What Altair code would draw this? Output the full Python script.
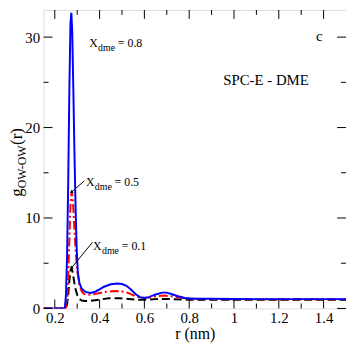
import altair as alt
import pandas as pd

# ---- data ----
r_08 = [0.15, 0.24, 0.245, 0.25, 0.255, 0.26, 0.265, 0.27, 0.274, 0.278, 0.283, 0.288, 0.293, 0.298, 0.303,
        0.31, 0.32, 0.33, 0.34, 0.36, 0.38, 0.40, 0.42, 0.45, 0.48, 0.50, 0.52, 0.54, 0.56, 0.58, 0.60,
        0.62, 0.65, 0.68, 0.70, 0.72, 0.75, 0.78, 0.82, 0.86, 0.90, 1.0, 1.1, 1.2, 1.3, 1.4, 1.5]
g_08 = [0.0, 0.0, 0.05, 1.5, 6.0, 14.0, 24.0, 31.5, 32.7, 30.5, 24.0, 17.0, 11.0, 6.5, 4.0,
        2.8, 2.2, 1.95, 1.8, 1.72, 1.85, 2.1, 2.4, 2.68, 2.75, 2.7, 2.5, 2.1, 1.6, 1.25, 1.15,
        1.25, 1.55, 1.75, 1.75, 1.6, 1.35, 1.15, 1.07, 1.06, 1.06, 1.04, 1.03, 1.03, 1.03, 1.03, 1.03]

r_05 = [0.15, 0.245, 0.25, 0.255, 0.26, 0.265, 0.27, 0.275, 0.28, 0.285, 0.29, 0.295, 0.30, 0.31, 0.32,
        0.33, 0.345, 0.37, 0.40, 0.43, 0.47, 0.50, 0.53, 0.56, 0.59, 0.62, 0.66, 0.69, 0.72, 0.76, 0.80,
        0.90, 1.0, 1.2, 1.5]
g_05 = [0.0, 0.0, 0.1, 0.8, 3.5, 7.5, 11.5, 12.9, 12.3, 10.0, 7.8, 5.8, 4.2, 2.6, 1.9,
        1.6, 1.5, 1.55, 1.7, 1.85, 1.92, 1.88, 1.7, 1.35, 1.15, 1.2, 1.38, 1.42, 1.35, 1.2, 1.08,
        1.04, 1.02, 1.01, 1.01]

r_01 = [0.15, 0.245, 0.25, 0.255, 0.26, 0.265, 0.27, 0.275, 0.28, 0.285, 0.29, 0.30, 0.31, 0.32, 0.335,
        0.36, 0.40, 0.44, 0.49, 0.53, 0.57, 0.61, 0.65, 0.69, 0.73, 0.80, 0.90, 1.0, 1.2, 1.5]
g_01 = [0.0, 0.0, 0.1, 0.5, 1.5, 3.0, 4.2, 4.45, 4.0, 3.2, 2.4, 1.5, 1.05, 0.88, 0.82,
        0.85, 0.98, 1.12, 1.12, 1.05, 0.96, 0.96, 1.03, 1.05, 1.02, 0.97, 0.96, 0.96, 0.96, 0.96]

x_ticks_major = [0.2, 0.4, 0.6, 0.8, 1.0, 1.2, 1.4]
x_ticks_minor = [0.3, 0.5, 0.7, 0.9, 1.1, 1.3]
y_ticks_major = [0, 10, 20, 30]
y_ticks_minor = [5, 15, 25]

label_r = [0.3535, 0.339, 0.371]
label_g = [28.95, 13.55, 6.42]
label_val = ["= 0.8", "= 0.5", "= 0.1"]

arrow_r = [0.332, 0.368]
arrow_g = [14.1, 7.3]
arrow_r2 = [0.276, 0.275]
arrow_g2 = [12.9, 4.5]
arrow_ang = [228, 219]

panel_text = ["c", "SPC-E - DME"]
panel_r = [1.366, 0.952]
panel_g = [29.6, 24.7]

# ---- chart ----
W, H = 306, 302
FONT = "Liberation Serif"

xs = alt.Scale(domain=[0.15, 1.5], nice=False, zero=False)
ys = alt.Scale(domain=[0, 33], nice=False, zero=False)

xaxis = alt.Axis(values=x_ticks_major, format="~g", ticks=False, domain=False, grid=False,
                 labelFont=FONT, labelFontSize=15, labelColor="black", labelPadding=2,
                 title="r (nm)", titleFont=FONT, titleFontSize=16, titleFontWeight="normal",
                 titleColor="black", titleBaseline="alphabetic", titleY=30)
yaxis = alt.Axis(values=y_ticks_major, ticks=False, domain=False, grid=False,
                 labelFont=FONT, labelFontSize=15, labelColor="black", labelPadding=4, title=None)

X = alt.X("r:Q", scale=xs, axis=xaxis)
Y = alt.Y("g:Q", scale=ys, axis=yaxis)


def line(r, g, color, dash):
    df = pd.DataFrame({"r": r, "g": g})
    kw = dict(color=color, strokeWidth=2, clip=True)
    if dash:
        kw["strokeDash"] = dash
    return alt.Chart(df).mark_line(**kw).encode(x=X, y=Y)


l01 = line(r_01, g_01, "black", [8, 4])
l05 = line(r_05, g_05, "#ff0000", [9, 3, 2, 3])
l08 = line(r_08, g_08, "#0000ff", None)


def xticks(vals, length):
    df = pd.DataFrame({"r": vals})
    b = alt.Chart(df).mark_rule(color="black", strokeWidth=1).encode(
        x=X, y=alt.value(H), y2=alt.value(H - length))
    t = alt.Chart(df).mark_rule(color="black", strokeWidth=1).encode(
        x=X, y=alt.value(0), y2=alt.value(length))
    return [b, t]


def yticks(vals, length):
    df = pd.DataFrame({"g": vals})
    lft = alt.Chart(df).mark_rule(color="black", strokeWidth=1).encode(
        y=Y, x=alt.value(0), x2=alt.value(length))
    rgt = alt.Chart(df).mark_rule(color="black", strokeWidth=1).encode(
        y=Y, x=alt.value(W), x2=alt.value(W - length))
    return [lft, rgt]


ticks = xticks(x_ticks_major, 9) + xticks(x_ticks_minor, 5) + yticks(y_ticks_major, 9) + yticks(y_ticks_minor, 5)

lab_df = pd.DataFrame({"r": label_r, "g": label_g, "v": label_val})
lab_X = alt.Chart(lab_df).mark_text(align="left", baseline="alphabetic", font=FONT, fontSize=12,
                                    color="black", text="X").encode(x=X, y=Y)
lab_sub = alt.Chart(lab_df).mark_text(align="left", baseline="alphabetic", font=FONT, fontSize=10,
                                      color="black", text="dme", dx=9, dy=4).encode(x=X, y=Y)
lab_val = alt.Chart(lab_df).mark_text(align="left", baseline="alphabetic", font=FONT, fontSize=12,
                                      color="black", dx=29).encode(x=X, y=Y, text="v:N")

arr_df = pd.DataFrame({"r": arrow_r, "g": arrow_g, "r2": arrow_r2, "g2": arrow_g2, "a": arrow_ang})
arrows = alt.Chart(arr_df).mark_rule(color="black", strokeWidth=1).encode(
    x=X, y=Y, x2="r2:Q", y2="g2:Q")
heads = alt.Chart(arr_df).mark_point(shape="triangle", filled=True, color="black", size=14, opacity=1).encode(
    x=alt.X("r2:Q", scale=xs, axis=xaxis), y=alt.Y("g2:Q", scale=ys, axis=yaxis),
    angle=alt.Angle("a:Q", scale=None))

pan_df = pd.DataFrame({"r": panel_r, "g": panel_g, "t": panel_text})
panel = alt.Chart(pan_df).mark_text(align="left", baseline="alphabetic", font=FONT, fontSize=15,
                                    color="black").encode(x=X, y=Y, text="t:N")

one = pd.DataFrame({"k": [0]})
TX = -22
yt_g = alt.Chart(one).mark_text(angle=270, align="left", baseline="alphabetic", font=FONT, fontSize=17,
                                color="black", text="g").encode(x=alt.value(TX), y=alt.value(189))
yt_sub = alt.Chart(one).mark_text(angle=270, align="left", baseline="alphabetic", font=FONT, fontSize=12,
                                  color="black", text="OW-OW").encode(x=alt.value(TX + 4), y=alt.value(180.5))
yt_r = alt.Chart(one).mark_text(angle=270, align="left", baseline="alphabetic", font=FONT, fontSize=17,
                                color="black", text="(r)").encode(x=alt.value(TX), y=alt.value(136.5))

chart = alt.layer(
    l01, l05, l08, *ticks, arrows, heads, lab_X, lab_sub, lab_val, panel, yt_g, yt_sub, yt_r
).properties(
    width=W, height=H,
    padding={"left": 36, "top": 0, "right": 0, "bottom": 36},
    autosize=alt.AutoSizeParams(type="none"),
).configure_view(stroke="black", strokeWidth=1.2).configure_axis(
    labelFont=FONT, titleFont=FONT, labelFontSize=15, titleFontSize=16, labelColor="black",
    titleColor="black", titleFontWeight="normal"
).configure_text(font=FONT).configure(background="white")

chart.save("out.html", embed_options={"renderer": "svg", "actions": False})
